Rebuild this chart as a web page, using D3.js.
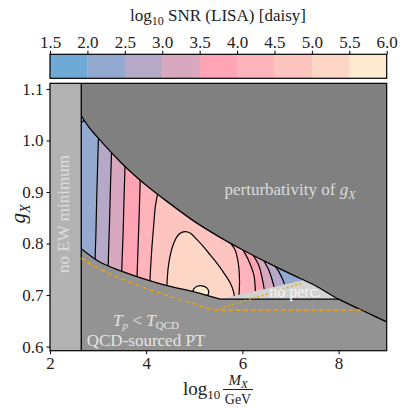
<!DOCTYPE html>
<html>
<head>
<meta charset="utf-8">
<script src="https://cdn.jsdelivr.net/npm/d3@7"></script>
<style>
  body { margin: 0; background: #fff; }
  svg text { font-family: "Liberation Serif", "DejaVu Serif", serif !important; }
</style>
</head>
<body>
<svg id="chart" width="403" height="409" font-family="Liberation Serif, serif"></svg>
<script>
// ---- colour scale (log10 SNR) ----
const levels = [1.5, 2.0, 2.5, 3.0, 3.5, 4.0, 4.5, 5.0, 5.5, 6.0];
const bandColors = ["#6fa9d6", "#93a9cf", "#b6a9c8", "#d8a8c0", "#fea4b5",
                    "#feb4ba", "#fec4bf", "#fed6c5", "#feeacf"];
const cbTicks = levels;
const xTicks = [2, 4, 6, 8];
const yTicks = [0.6, 0.7, 0.8, 0.9, 1.0, 1.1];

// ---- region boundaries, [log10 M/GeV, g_X] ----
const ewMinX = 2.65;
const pertCurve = [[2.65,1.048],[2.8,1.027],[3.0,1.005],[3.5,0.955],[4.0,0.913],[4.5,0.877],
                   [5.0,0.843],[5.5,0.814],[6.0,0.788],[6.5,0.764],[7.0,0.741],[7.5,0.719],
                   [8.0,0.692],[8.5,0.670],[9.0,0.648]];
const qcdCurve = [[2.65,0.790],[3.0,0.766],[3.5,0.746],[4.0,0.730],[4.5,0.717],[5.0,0.706],[5.54,0.692]];
const noPercEdge = [[5.54,0.692],[7.28,0.729]];
const noPercFloor = 0.692;
const qcdDashed = [[2.65,0.771],[3.0,0.752],[3.5,0.731],[4.0,0.713],[4.5,0.697],[5.0,0.683],[5.44,0.671],[8.53,0.671]];
const noPercDotted = [[5.44,0.671],[7.26,0.724]];

// ---- SNR contour lines ----
const lvl20Corner = [[2.62,1.036],[2.69,1.037],[2.72,1.046],[2.74,1.07]];
const lvl25Left = [[3.02,1.03],[3.007,1.004],[2.99,0.95],[2.97,0.884],[2.955,0.82],[2.94,0.777],[2.935,0.74]];
const lvl25Right = [[6.62,0.775],[6.65,0.761],[6.76,0.745],[6.86,0.725],[6.92,0.70]];
const lvl30Left = [[3.29,1.0],[3.28,0.978],[3.26,0.92],[3.24,0.85],[3.22,0.79],[3.21,0.758],[3.205,0.73]];
const lvl30Right = [[6.39,0.785],[6.41,0.774],[6.55,0.748],[6.65,0.719],[6.69,0.70]];
const lvl35Left = [[3.57,0.97],[3.56,0.949],[3.54,0.89],[3.52,0.82],[3.50,0.77],[3.49,0.742],[3.485,0.72]];
const lvl35Right = [[6.15,0.80],[6.17,0.787],[6.34,0.758],[6.44,0.719],[6.47,0.70]];
const lvl40Left = [[3.885,0.94],[3.875,0.920],[3.855,0.86],[3.83,0.79],[3.815,0.75],[3.81,0.732],[3.805,0.71]];
const lvl40Right = [[5.94,0.81],[5.96,0.798],[6.13,0.767],[6.24,0.738],[6.27,0.707],[6.28,0.69]];
const lvl45Left = [[4.26,0.91],[4.22,0.888],[4.19,0.872],[4.16,0.84],[4.12,0.794],[4.09,0.75],[4.08,0.729],[4.08,0.70]];
const lvl45Right = [[5.69,0.82],[5.70,0.809],[5.85,0.787],[5.92,0.758],[5.94,0.725],[5.93,0.70],[5.93,0.68]];
const lvl50Cap = [[4.42,0.69],[4.43,0.719],[4.47,0.762],[4.57,0.800],[4.68,0.818],[4.80,0.823],[4.92,0.820],
                  [5.05,0.808],[5.19,0.794],[5.33,0.778],[5.47,0.762],[5.60,0.745],[5.75,0.723],[5.82,0.705],[5.84,0.68]];
const lvl55Blob = [[4.96,0.702],[4.99,0.712],[5.06,0.717],[5.16,0.718],[5.26,0.714],[5.30,0.706],[5.26,0.698],[5.12,0.696],[5.0,0.697]];

const contours = [
  { level: 2.0, kind: "low",  left: lvl20Corner },
  { level: 2.5, kind: "band", left: lvl25Left, right: lvl25Right },
  { level: 3.0, kind: "band", left: lvl30Left, right: lvl30Right },
  { level: 3.5, kind: "band", left: lvl35Left, right: lvl35Right },
  { level: 4.0, kind: "band", left: lvl40Left, right: lvl40Right },
  { level: 4.5, kind: "band", left: lvl45Left, right: lvl45Right },
  { level: 5.0, kind: "cap",  left: lvl50Cap },
  { level: 5.5, kind: "blob", left: lvl55Blob }
];

// ---- layout ----
const plot = { left: 50, right: 386.7, top: 83.3, bottom: 350.7 };
const cb = { top: 54.3, bottom: 78.3 };
const serif = "'Liberation Serif', 'DejaVu Serif', serif";

const x = d3.scaleLinear().domain([2, 9]).range([plot.left, plot.right]);
const y = d3.scaleLinear().domain([0.592, 1.111]).range([plot.bottom, plot.top]);
const cbx = d3.scaleLinear().domain([1.5, 6.0]).range([plot.left, plot.right]);
const bandColor = d3.scaleThreshold().domain(levels.slice(1, -1)).range(bandColors);

const svg = d3.select("#chart");
const defs = svg.append("defs");

const smooth = d3.line().x(d => x(d[0])).y(d => y(d[1])).curve(d3.curveCatmullRom.alpha(0.5));
const smoothClosed = d3.line().x(d => x(d[0])).y(d => y(d[1])).curve(d3.curveCatmullRomClosed.alpha(0.5));
const mono = d3.line().x(d => x(d[0])).y(d => y(d[1])).curve(d3.curveMonotoneX);
const straight = d3.line().x(d => x(d[0])).y(d => y(d[1]));
const pt = (a, b) => `L${x(a)},${y(b)}`;
const last = a => a[a.length - 1];

// clip paths
defs.append("clipPath").attr("id", "clip-plot")
  .append("rect").attr("x", plot.left).attr("y", plot.top)
  .attr("width", plot.right - plot.left).attr("height", plot.bottom - plot.top);

defs.append("clipPath").attr("id", "clip-below-pert")
  .append("path")
  .attr("d", mono(pertCurve) + pt(9.5, 0.648) + pt(9.5, 0.4) + pt(ewMinX, 0.4) + "Z");

const tip = last(noPercEdge);
defs.append("clipPath").attr("id", "clip-above-qcd")
  .append("path")
  .attr("d", mono(qcdCurve) + straight(noPercEdge).replace(/^M/, "L") + pt(tip[0], 1.3) + pt(ewMinX, 1.3) + "Z");

const root = svg.append("g").attr("clip-path", "url(#clip-plot)");

// background regions
root.append("rect")
  .attr("x", plot.left).attr("y", plot.top)
  .attr("width", plot.right - plot.left).attr("height", plot.bottom - plot.top)
  .attr("fill", "#939393");

root.append("path")
  .attr("d", mono(pertCurve) + pt(9.5, 0.648) + pt(9.5, 1.3) + pt(ewMinX, 1.3) + "Z")
  .attr("fill", "#808080");

// coloured SNR region
const colored = root.append("g").attr("clip-path", "url(#clip-below-pert)")
  .append("g").attr("clip-path", "url(#clip-above-qcd)");

colored.append("rect")
  .attr("x", plot.left).attr("y", plot.top)
  .attr("width", plot.right - plot.left).attr("height", plot.bottom - plot.top)
  .attr("fill", bandColor(2.2));

function fillPath(c) {
  const L = c.left, f = L[0], l = last(L);
  if (c.kind === "blob") return smoothClosed(L);
  if (c.kind === "low") return smooth(L) + pt(l[0], 1.3) + pt(f[0], 1.3) + "Z";
  if (c.kind === "cap") return smooth(L) + pt(l[0], 0.5) + pt(f[0], 0.5) + "Z";
  const R = c.right;
  return smooth(L) + pt(l[0], 0.5) + pt(last(R)[0], 0.5)
    + smooth(R.slice().reverse()).replace(/^M/, "L")
    + pt(R[0][0], 1.3) + pt(f[0], 1.3) + "Z";
}

colored.selectAll("path.band")
  .data(contours)
  .enter().append("path")
  .attr("class", "band")
  .attr("d", fillPath)
  .attr("fill", d => d.kind === "low" ? bandColor(d.level - 0.1) : bandColor(d.level + 0.1));

const lineData = [];
contours.forEach(c => {
  lineData.push({ pts: c.left, closed: c.kind === "blob" });
  if (c.right) lineData.push({ pts: c.right, closed: false });
});
colored.selectAll("path.cline")
  .data(lineData)
  .enter().append("path")
  .attr("class", "cline")
  .attr("d", d => d.closed ? smoothClosed(d.pts) : smooth(d.pts))
  .attr("fill", "none")
  .attr("stroke", "#000")
  .attr("stroke-width", 1.2);

// no percolation wedge
const belowPert = root.append("g").attr("clip-path", "url(#clip-below-pert)");
belowPert.append("path")
  .attr("d", straight(noPercEdge) + pt(9.5, 0.78) + pt(9.5, noPercFloor) + "Z")
  .attr("fill", "#d3d3d3");

// boundaries
belowPert.append("path")
  .attr("d", mono(qcdCurve) + pt(9.5, noPercFloor))
  .attr("fill", "none").attr("stroke", "#000").attr("stroke-width", 1.3);

root.append("path")
  .attr("d", mono(pertCurve))
  .attr("fill", "none").attr("stroke", "#000").attr("stroke-width", 1.3);

// no EW minimum strip
root.append("rect")
  .attr("x", plot.left).attr("y", plot.top)
  .attr("width", x(ewMinX) - plot.left).attr("height", plot.bottom - plot.top)
  .attr("fill", "#b3b3b3");
root.append("line")
  .attr("x1", x(ewMinX)).attr("x2", x(ewMinX))
  .attr("y1", plot.top).attr("y2", plot.bottom)
  .attr("stroke", "#000").attr("stroke-width", 1.3);

// orange QCD / percolation lines
root.append("path")
  .attr("d", mono(qcdDashed))
  .attr("fill", "none").attr("stroke", "#f5a300").attr("stroke-width", 1.3)
  .attr("stroke-dasharray", "4.5,3");
root.append("path")
  .attr("d", straight(noPercDotted))
  .attr("fill", "none").attr("stroke", "#f5a300").attr("stroke-width", 1.8)
  .attr("stroke-dasharray", "1.6,2.8");

// region labels
const lab = svg.append("g").attr("font-size", 17).attr("font-family", serif);

const pertText = lab.append("text")
  .attr("x", 290).attr("y", 195).attr("text-anchor", "middle").attr("fill", "#dcdcdc");
pertText.append("tspan").text("perturbativity of ");
pertText.append("tspan").attr("font-style", "italic").text("g");
pertText.append("tspan").attr("font-style", "italic").attr("font-size", 12).attr("dy", 4).text("X");

lab.append("text")
  .attr("transform", "translate(69,214) rotate(-90)")
  .attr("text-anchor", "middle").attr("fill", "#dedede")
  .text("no EW minimum");

const tpText = lab.append("text")
  .attr("x", 146).attr("y", 326).attr("text-anchor", "middle").attr("fill", "#e4e4e4");
tpText.append("tspan").attr("font-style", "italic").text("T");
tpText.append("tspan").attr("font-style", "italic").attr("font-size", 11).attr("dy", 3).text("p");
tpText.append("tspan").attr("dy", -3).text(" < ");
tpText.append("tspan").attr("font-style", "italic").text("T");
tpText.append("tspan").attr("font-size", 11).attr("dy", 3).text("QCD");

lab.append("text")
  .attr("x", 146).attr("y", 346).attr("text-anchor", "middle").attr("fill", "#e4e4e4")
  .text("QCD-sourced PT");

lab.append("text")
  .attr("x", 295).attr("y", 296.5).attr("text-anchor", "middle").attr("fill", "#f4f4f4")
  .attr("font-size", 16)
  .text("no perc.");

// frame
svg.append("rect")
  .attr("x", plot.left).attr("y", plot.top)
  .attr("width", plot.right - plot.left).attr("height", plot.bottom - plot.top)
  .attr("fill", "none").attr("stroke", "#000").attr("stroke-width", 1.2);

// axes
const xAxis = svg.append("g")
  .attr("transform", `translate(0,${plot.bottom})`)
  .call(d3.axisBottom(x).tickValues(xTicks).tickSize(3.5).tickPadding(3).tickFormat(d3.format("d")));
const yAxis = svg.append("g")
  .attr("transform", `translate(${plot.left},0)`)
  .call(d3.axisLeft(y).tickValues(yTicks).tickSize(3.5).tickPadding(3).tickFormat(d3.format(".1f")));
[xAxis, yAxis].forEach(a => {
  a.attr("font-family", serif);
  a.select(".domain").remove();
  a.selectAll("text").attr("font-size", 17).attr("fill", "#222");
  a.selectAll("line").attr("stroke", "#000");
});

// axis titles
const yl = svg.append("text")
  .attr("transform", "translate(25,214) rotate(-90)")
  .attr("text-anchor", "middle").attr("font-size", 21).attr("fill", "#222").attr("font-family", serif);
yl.append("tspan").attr("font-style", "italic").text("g");
yl.append("tspan").attr("font-style", "italic").attr("font-size", 14).attr("dy", 5).text("X");

const xl = svg.append("g").attr("fill", "#222").attr("font-family", serif);
const xlt = xl.append("text").attr("x", 183).attr("y", 395).attr("font-size", 19);
xlt.append("tspan").text("log");
xlt.append("tspan").attr("font-size", 13).attr("dy", 4).text("10");
xl.append("text").attr("x", 238).attr("y", 384.5).attr("text-anchor", "middle").attr("font-size", 15)
  .call(t => {
    t.append("tspan").attr("font-style", "italic").text("M");
    t.append("tspan").attr("font-style", "italic").attr("font-size", 11).attr("dy", 3).text("X");
  });
xl.append("line")
  .attr("x1", 223).attr("x2", 253).attr("y1", 389.5).attr("y2", 389.5)
  .attr("stroke", "#222").attr("stroke-width", 1);
xl.append("text").attr("x", 238).attr("y", 404).attr("text-anchor", "middle").attr("font-size", 14)
  .text("GeV");

// colour bar
svg.append("g").selectAll("rect")
  .data(bandColors)
  .enter().append("rect")
  .attr("x", (d, i) => cbx(levels[i]))
  .attr("width", (d, i) => cbx(levels[i + 1]) - cbx(levels[i]) + 0.3)
  .attr("y", cb.top).attr("height", cb.bottom - cb.top)
  .attr("fill", d => d);
svg.append("rect")
  .attr("x", plot.left).attr("y", cb.top)
  .attr("width", plot.right - plot.left).attr("height", cb.bottom - cb.top)
  .attr("fill", "none").attr("stroke", "#000").attr("stroke-width", 1.2);
const cbAxis = svg.append("g")
  .attr("transform", `translate(0,${cb.top})`)
  .call(d3.axisTop(cbx).tickValues(cbTicks).tickSize(3.5).tickPadding(3).tickFormat(d3.format(".1f")));
cbAxis.attr("font-family", serif);
cbAxis.select(".domain").remove();
cbAxis.selectAll("text").attr("font-size", 17).attr("fill", "#222");
cbAxis.selectAll("line").attr("stroke", "#000");

const cbTitle = svg.append("text")
  .attr("x", 218).attr("y", 21).attr("text-anchor", "middle")
  .attr("font-size", 17).attr("fill", "#222").attr("font-family", serif);
cbTitle.append("tspan").text("log");
cbTitle.append("tspan").attr("font-size", 12).attr("dy", 4).text("10");
cbTitle.append("tspan").attr("dy", -4).text(" SNR (LISA) [daisy]");
</script>
</body>
</html>
